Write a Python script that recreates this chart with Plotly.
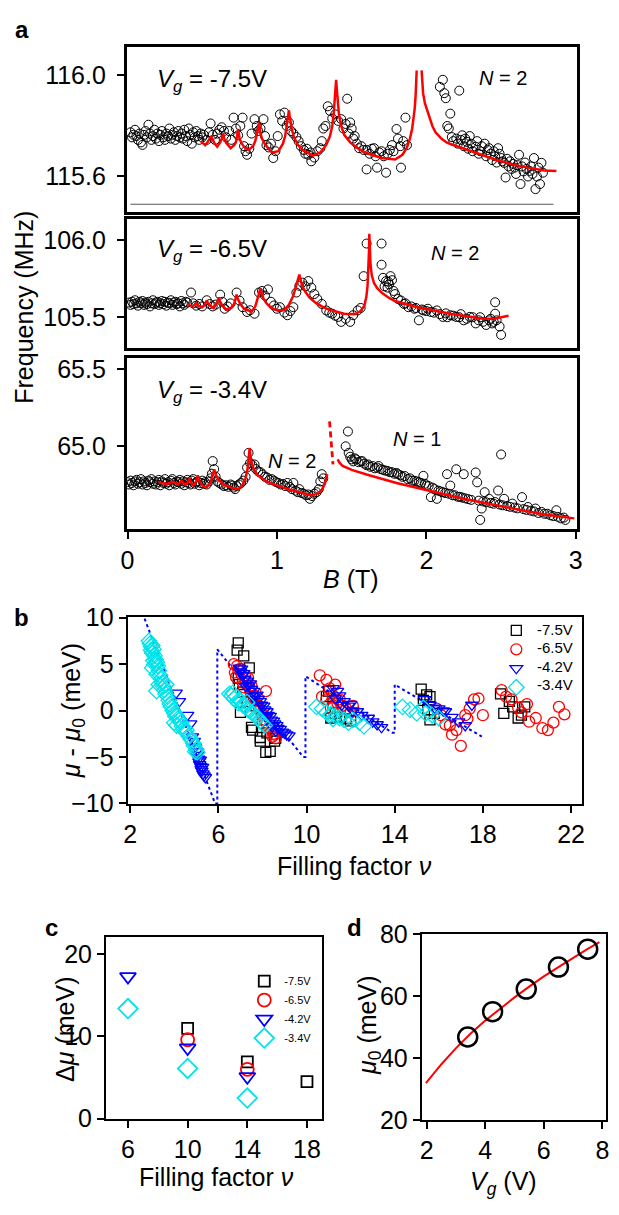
import plotly.graph_objects as go

W, H = 619, 1215

# ---------------- panel a : resonance frequency vs B ----------------
# Vg = -7.5 V  (B [T], f [MHz])
a1_data = [
    (0.02,115.775),(0.03,115.755),(0.04,115.765),(0.05,115.785),(0.06,115.76),(0.07,115.745),(0.08,115.77),
    (0.09,115.735),(0.10,115.725),(0.11,115.765),(0.12,115.78),(0.13,115.755),(0.14,115.805),(0.15,115.77),
    (0.16,115.745),(0.17,115.76),(0.18,115.785),(0.19,115.75),(0.20,115.77),(0.21,115.74),(0.22,115.765),
    (0.23,115.78),(0.24,115.755),(0.25,115.745),(0.26,115.77),(0.27,115.76),(0.28,115.79),(0.29,115.75),
    (0.30,115.765),(0.31,115.775),(0.32,115.745),(0.33,115.76),(0.34,115.78),(0.35,115.755),(0.36,115.77),
    (0.37,115.75),(0.38,115.785),(0.39,115.76),(0.40,115.74),(0.41,115.79),(0.42,115.765),(0.43,115.73),
    (0.44,115.775),(0.45,115.755),(0.46,115.78),(0.47,115.76),(0.48,115.745),(0.49,115.77),(0.50,115.755),
    (0.51,115.765),(0.53,115.745),(0.545,115.775),(0.556,115.81),(0.57,115.765),(0.585,115.745),(0.60,115.77),
    (0.615,115.785),(0.63,115.795),(0.645,115.78),(0.66,115.755),(0.68,115.78),(0.695,115.745),(0.71,115.833),
    (0.725,115.79),(0.74,115.763),(0.755,115.80),(0.77,115.833),(0.78,115.72),(0.79,115.70),(0.80,115.686),
    (0.815,115.71),(0.83,115.77),(0.85,115.827),(0.865,115.80),(0.875,115.78),(0.89,115.79),(0.91,115.827),
    (0.92,115.76),(0.93,115.724),(0.945,115.715),(0.96,115.73),(0.975,115.673),(0.99,115.70),(1.005,115.76),
    (1.02,115.846),(1.035,115.82),(1.05,115.853),(1.065,115.80),(1.08,115.814),(1.095,115.78),(1.11,115.77),
    (1.13,115.756),(1.145,115.74),(1.16,115.72),(1.18,115.705),(1.19,115.69),(1.20,115.71),(1.21,115.686),
    (1.225,115.695),(1.23,115.66),(1.25,115.675),(1.27,115.70),(1.29,115.712),(1.30,115.74),(1.31,115.79),
    (1.325,115.80),(1.34,115.878),(1.355,115.86),(1.37,115.83),(1.39,115.846),(1.41,115.82),(1.43,115.827),
    (1.445,115.79),(1.46,115.808),(1.47,115.908),(1.48,115.77),(1.49,115.814),(1.50,115.79),(1.51,115.75),
    (1.52,115.76),(1.535,115.73),(1.55,115.712),(1.565,115.72),(1.58,115.705),(1.60,115.705),(1.60,115.628),
    (1.62,115.69),(1.635,115.71),(1.65,115.712),(1.66,115.68),(1.67,115.635),(1.685,115.695),(1.70,115.70),
    (1.715,115.68),(1.73,115.615),(1.74,115.69),(1.755,115.705),(1.77,115.724),(1.78,115.70),(1.80,115.788),
    (1.81,115.75),(1.825,115.72),(1.83,115.635),(1.845,115.74),(1.86,115.833),(1.87,115.724),
    (2.09,115.955),(2.11,115.983),(2.12,115.93),(2.13,115.91),(2.14,115.80),(2.15,115.79),(2.16,115.849),
    (2.17,115.756),(2.18,115.74),(2.20,115.75),(2.21,115.73),(2.22,115.94),(2.23,115.745),(2.24,115.763),
    (2.25,115.72),(2.26,115.75),(2.27,115.737),(2.28,115.71),(2.29,115.76),(2.30,115.73),(2.31,115.70),
    (2.33,115.718),(2.34,115.74),(2.35,115.69),(2.36,115.70),(2.37,115.72),(2.39,115.73),(2.40,115.68),
    (2.41,115.705),(2.42,115.712),(2.43,115.69),(2.44,115.665),(2.45,115.70),(2.46,115.68),(2.47,115.655),
    (2.48,115.712),(2.49,115.69),(2.50,115.673),(2.51,115.66),(2.52,115.654),(2.53,115.596),(2.54,115.67),
    (2.55,115.64),(2.56,115.66),(2.57,115.63),(2.58,115.65),(2.59,115.635),(2.60,115.61),(2.61,115.645),
    (2.62,115.686),(2.63,115.57),(2.64,115.64),(2.65,115.62),(2.66,115.655),(2.67,115.63),(2.68,115.60),
    (2.69,115.622),(2.70,115.64),(2.71,115.61),(2.72,115.673),(2.73,115.55),(2.74,115.60),(2.75,115.635),
    (2.76,115.57),(2.77,115.654),(2.78,115.615),
]
a1_fit = [
    (0.49,115.74),(0.505,115.73),(0.52,115.724),(0.535,115.735),(0.55,115.75),(0.56,115.76),(0.57,115.745),
    (0.585,115.728),(0.60,115.718),(0.62,115.735),(0.632,115.752),(0.64,115.769),(0.648,115.75),(0.66,115.733),
    (0.69,115.712),(0.715,115.725),(0.725,115.735),(0.732,115.752),(0.737,115.772),(0.74,115.788),
    (0.744,115.77),(0.75,115.75),(0.76,115.735),(0.78,115.717),(0.81,115.705),(0.84,115.72),(0.855,115.74),
    (0.865,115.762),(0.872,115.785),(0.877,115.805),(0.88,115.814),(0.884,115.795),(0.89,115.77),
    (0.90,115.75),(0.92,115.727),(0.95,115.705),(0.97,115.695),(1.01,115.70),(1.04,115.73),(1.055,115.76),
    (1.065,115.80),(1.072,115.835),(1.078,115.858),(1.08,115.862),(1.085,115.84),(1.092,115.81),
    (1.10,115.785),(1.115,115.755),(1.14,115.725),(1.17,115.705),(1.24,115.683),(1.29,115.695),
    (1.33,115.725),(1.355,115.76),(1.37,115.80),(1.38,115.85),(1.387,115.90),(1.392,115.95),(1.396,115.983),
    (1.40,115.95),(1.405,115.90),(1.415,115.845),(1.43,115.80),(1.45,115.765),(1.49,115.735),(1.54,115.712),
    (1.59,115.695),(1.70,115.673),(1.79,115.667),(1.84,115.686),(1.87,115.715),(1.89,115.75),(1.905,115.79),
    (1.915,115.83),(1.922,115.87),(1.928,115.92),(1.932,115.97),(1.935,116.02),(None,None),
    (1.968,116.02),(1.972,115.97),(1.978,115.93),(1.99,115.89),(2.005,115.86),(2.02,115.835),(2.04,115.80),
    (2.06,115.776),(2.10,115.75),(2.14,115.733),(2.25,115.712),(2.36,115.688),(2.46,115.667),(2.58,115.647),
    (2.68,115.635),(2.79,115.624),(2.87,115.622),
]

# Vg = -6.5 V
a2_data = [
    (0.01,105.595),(0.02,105.58),(0.03,105.60),(0.04,105.585),(0.05,105.61),(0.06,105.59),(0.07,105.575),
    (0.08,105.60),(0.09,105.59),(0.10,105.605),(0.11,105.58),(0.12,105.595),(0.13,105.585),(0.14,105.60),
    (0.15,105.57),(0.16,105.59),(0.17,105.61),(0.18,105.585),(0.19,105.595),(0.20,105.60),(0.21,105.58),
    (0.22,105.59),(0.23,105.605),(0.24,105.585),(0.25,105.60),(0.26,105.575),(0.27,105.595),(0.28,105.59),
    (0.29,105.61),(0.30,105.58),(0.31,105.595),(0.32,105.60),(0.33,105.585),(0.34,105.59),(0.35,105.57),
    (0.36,105.605),(0.37,105.59),(0.38,105.58),(0.39,105.60),(0.40,105.595),
    (0.425,105.66),(0.44,105.59),(0.46,105.575),(0.48,105.586),(0.50,105.57),(0.53,105.61),(0.55,105.585),
    (0.57,105.57),(0.59,105.582),(0.62,105.646),(0.635,105.6),(0.65,105.555),(0.67,105.57),(0.69,105.59),
    (0.73,105.66),(0.75,105.607),(0.77,105.565),(0.80,105.534),(0.82,105.545),(0.85,105.523),(0.88,105.66),
    (0.90,105.67),(0.92,105.64),(0.94,105.68),(0.96,105.6),(0.98,105.576),(1.00,105.555),(1.02,105.565),
    (1.05,105.53),(1.07,105.513),(1.09,105.54),(1.11,105.565),(1.13,105.66),(1.15,105.703),(1.17,105.724),
    (1.19,105.70),(1.21,105.734),(1.23,105.692),(1.25,105.65),(1.27,105.618),(1.30,105.586),(1.33,105.544),
    (1.35,105.53),(1.37,105.523),(1.39,105.51),(1.41,105.502),(1.43,105.47),(1.46,105.49),(1.49,105.47),
    (1.51,105.513),(1.54,105.544),(1.56,105.56),(1.58,105.766),(1.60,105.977),(1.70,105.977),(1.70,105.84),
    (1.71,105.755),(1.72,105.70),(1.73,105.734),(1.74,105.692),(1.745,105.73),(1.75,105.713),(1.76,105.766),
    (1.77,105.74),(1.78,105.67),(1.79,105.65),(1.81,105.618),(1.83,105.608),(1.85,105.586),(1.86,105.59),
    (1.88,105.565),(1.90,105.57),(1.92,105.555),(1.93,105.56),(1.95,105.48),(1.97,105.55),(1.98,105.544),
    (2.00,105.54),(2.01,105.555),(2.03,105.534),(2.05,105.53),(2.07,105.544),(2.09,105.52),(2.11,105.502),
    (2.13,105.525),(2.14,105.50),(2.16,105.513),(2.18,105.51),(2.20,105.502),(2.22,105.50),(2.23,105.52),
    (2.25,105.48),(2.27,105.49),(2.29,105.502),(2.31,105.50),(2.33,105.46),(2.35,105.48),(2.36,105.50),
    (2.38,105.47),(2.40,105.45),(2.42,105.48),(2.43,105.49),(2.44,105.46),(2.45,105.47),(2.46,105.597),
    (2.46,105.523),(2.47,105.48),(2.49,105.44),(2.50,105.386),
]
a2_fit = [
    (0.40,105.582),(0.42,105.575),(0.435,105.57),(0.45,105.58),(0.46,105.59),(0.475,105.575),(0.50,105.565),
    (0.515,105.578),(0.525,105.595),(0.53,105.608),(0.54,105.59),(0.555,105.572),(0.575,105.559),
    (0.595,105.585),(0.605,105.61),(0.61,105.629),(0.618,105.605),(0.635,105.575),(0.66,105.549),
    (0.70,105.565),(0.715,105.59),(0.725,105.625),(0.73,105.646),(0.738,105.62),(0.755,105.585),
    (0.78,105.555),(0.83,105.536),(0.855,105.57),(0.875,105.63),(0.885,105.67),(0.89,105.686),
    (0.897,105.655),(0.91,105.62),(0.93,105.59),(0.96,105.56),(1.00,105.545),(1.045,105.545),(1.08,105.58),
    (1.11,105.64),(1.13,105.71),(1.145,105.76),(1.15,105.776),(1.157,105.745),(1.17,105.70),(1.19,105.665),
    (1.22,105.625),(1.26,105.593),(1.30,105.57),(1.35,105.548),(1.45,105.522),(1.52,105.52),(1.56,105.54),
    (1.585,105.575),(1.598,105.63),(1.606,105.70),(1.612,105.80),(1.616,105.93),(1.618,106.04),
    (1.621,105.93),(1.626,105.84),(1.635,105.77),(1.65,105.72),(1.67,105.69),(1.70,105.66),(1.75,105.625),
    (1.79,105.605),(1.94,105.565),(2.16,105.523),(2.38,105.49),(2.46,105.492),(2.55,105.51),
]

# Vg = -3.4 V
a3_data = [
    (0.00,64.765),(0.01,64.75),(0.02,64.775),(0.03,64.76),(0.04,64.745),(0.05,64.77),(0.06,64.78),
    (0.07,64.755),(0.08,64.765),(0.09,64.785),(0.10,64.75),(0.11,64.77),(0.12,64.76),(0.13,64.745),
    (0.14,64.775),(0.15,64.765),(0.16,64.785),(0.17,64.755),(0.18,64.77),(0.19,64.75),(0.20,64.765),
    (0.21,64.78),(0.22,64.745),(0.23,64.77),(0.24,64.76),(0.25,64.785),(0.26,64.755),(0.27,64.765),
    (0.28,64.745),(0.29,64.775),(0.30,64.785),(0.31,64.76),(0.32,64.75),(0.33,64.77),(0.34,64.765),
    (0.35,64.78),(0.36,64.755),(0.37,64.77),(0.38,64.745),(0.39,64.765),(0.40,64.78),(0.41,64.76),
    (0.42,64.75),(0.43,64.775),(0.44,64.785),(0.45,64.755),(0.46,64.765),(0.47,64.77),(0.48,64.745),
    (0.49,64.76),(0.50,64.775),(0.51,64.755),(0.52,64.765),
    (0.53,64.75),(0.545,64.77),(0.555,64.79),(0.565,64.82),(0.57,64.902),(0.58,64.85),(0.59,64.80),
    (0.60,64.77),(0.615,64.76),(0.63,64.75),(0.645,64.74),(0.66,64.745),(0.675,64.735),(0.69,64.75),
    (0.70,64.743),(0.71,64.73),(0.72,64.72),(0.73,64.74),(0.745,64.75),(0.76,64.76),(0.775,64.775),
    (0.79,64.80),(0.80,64.86),(0.81,64.955),(0.82,64.89),(0.835,64.875),(0.85,64.88),(0.86,64.85),
    (0.875,64.835),(0.89,64.83),(0.905,64.815),(0.92,64.80),(0.935,64.795),(0.95,64.78),(0.965,64.785),
    (0.98,64.775),(0.995,64.765),(1.01,64.76),(1.025,64.75),(1.04,64.753),(1.055,64.74),(1.07,64.76),
    (1.085,64.735),(1.10,64.72),(1.11,64.76),(1.125,64.71),(1.14,64.70),(1.15,64.72),(1.165,64.695),
    (1.18,64.69),(1.195,64.68),(1.21,64.685),(1.22,64.657),(1.235,64.675),(1.25,64.69),(1.265,64.70),
    (1.28,64.72),(1.29,64.77),(1.30,64.817),(1.31,64.79),
    (1.46,64.998),(1.475,65.094),(1.48,64.955),(1.49,64.93),(1.50,64.913),(1.51,64.90),(1.52,64.92),
    (1.53,64.913),(1.545,64.895),(1.56,64.90),(1.57,64.902),(1.585,64.885),(1.60,64.875),(1.61,64.88),
    (1.625,64.865),(1.64,64.87),(1.655,64.855),(1.67,64.86),(1.68,64.87),(1.695,64.85),(1.71,64.845),
    (1.725,64.84),(1.74,64.838),(1.755,64.83),(1.77,64.83),(1.785,64.82),(1.80,64.825),(1.81,64.817),
    (1.825,64.81),(1.84,64.80),(1.855,64.805),(1.875,64.785),(1.89,64.79),(1.905,64.775),(1.92,64.774),
    (1.935,64.77),(1.95,64.765),(1.965,64.76),(1.98,64.806),(1.99,64.755),(2.00,64.743),(2.015,64.74),
    (2.03,64.668),(2.04,64.73),(2.055,64.72),(2.07,64.657),(2.08,64.71),(2.095,64.705),(2.11,64.70),
    (2.125,64.695),(2.138,64.817),(2.15,64.69),(2.16,64.743),(2.175,64.68),(2.19,64.68),(2.20,64.849),
    (2.21,64.67),(2.225,64.67),(2.24,64.665),(2.25,64.817),(2.26,64.66),(2.28,64.655),(2.30,64.65),
    (2.33,64.828),(2.34,64.764),(2.35,64.645),(2.36,64.52),(2.37,64.594),(2.38,64.64),(2.39,64.70),
    (2.40,64.635),(2.42,64.657),(2.43,64.63),(2.45,64.625),(2.46,64.636),(2.48,64.711),(2.49,64.62),
    (2.50,64.945),(2.51,64.615),(2.52,64.657),(2.54,64.61),(2.56,64.605),(2.575,64.626),(2.59,64.60),
    (2.61,64.595),(2.64,64.668),(2.65,64.59),(2.67,64.585),(2.68,64.604),(2.70,64.58),(2.72,64.575),
    (2.73,64.594),(2.75,64.565),(2.77,64.572),(2.79,64.56),(2.81,64.56),(2.83,64.55),(2.85,64.545),
    (2.87,64.583),(2.88,64.54),(2.90,64.53),(2.92,64.535),(2.93,64.52),
]
a3_fit = [
    (0.206,64.764),(0.235,64.756),(0.26,64.753),(0.285,64.76),(0.305,64.768),(0.33,64.752),(0.345,64.755),
    (0.36,64.774),(0.375,64.757),(0.39,64.749),(0.405,64.765),(0.414,64.789),(0.425,64.762),(0.44,64.743),
    (0.46,64.772),(0.47,64.81),(0.48,64.775),(0.505,64.74),(0.53,64.732),(0.555,64.76),(0.57,64.81),
    (0.58,64.849),(0.59,64.815),(0.61,64.78),(0.65,64.745),(0.70,64.728),(0.74,64.72),(0.77,64.745),
    (0.79,64.79),(0.805,64.86),(0.813,64.94),(0.817,64.987),(0.822,64.94),(0.83,64.895),(0.845,64.85),
    (0.87,64.81),(0.92,64.775),(0.96,64.757),(1.07,64.721),(1.18,64.689),(1.23,64.679),(1.27,64.69),
    (1.30,64.715),(1.32,64.753),(1.337,64.817),(None,None),
    (1.406,64.913),(1.42,64.89),(1.44,64.87),(1.50,64.845),(1.60,64.815),(1.70,64.785),(1.80,64.76),
    (1.92,64.732),(2.04,64.705),(2.14,64.679),(2.25,64.657),(2.357,64.636),(2.46,64.615),(2.575,64.594),
    (2.69,64.573),(2.793,64.555),(2.90,64.54),(2.99,64.53),
]
a3_fit_dash = [(1.352,65.16),(1.375,64.88)]

# ---------------- panel b : mu - mu0 vs filling factor ----------------
b_sawtooth = [(2.65,9.9),(5.85,-10.0),(5.95,-10.0),(5.95,6.6),(9.85,-5.0),(9.95,-5.0),(9.95,3.7),
              (13.9,-2.4),(14.0,-2.4),(14.0,2.8),(17.95,-2.8)]
b_m75 = [(6.9,7.3),(6.85,6.5),(7.15,5.9),(7.4,4.6),(6.9,3.5),(6.95,2.8),(7.1,2.0),(7.3,1.0),(7.0,-0.2),
         (7.5,-1.8),(7.55,-2.1),(7.9,-2.9),(7.9,-3.3),(8.15,-4.5),(8.35,-4.4),(8.55,-3.3),(8.6,-3.0),
         (8.2,-2.4),(7.7,0.5),(8.0,-1.0),
         (11.0,2.1),(10.9,1.5),(11.1,-0.8),(11.3,-0.3),(11.5,-0.7),(11.8,-0.9),(12.0,-1.1),(11.2,0.8),
         (15.2,2.3),(15.45,1.7),(15.6,1.5),(15.3,1.1),(15.5,0.1),(15.6,-1.0),(15.8,-0.3),
         (18.8,1.8),(18.95,-0.3),(19.2,1.0),(19.35,0.4),(19.6,-0.8),(19.75,-0.5),(19.9,0.4)]
b_m65 = [(6.7,5.0),(6.75,4.1),(6.8,3.6),(6.85,4.8),(6.9,4.4),(7.0,4.5),(7.05,3.9),(7.1,3.0),(7.2,3.8),
         (7.25,3.1),(7.35,3.5),(7.4,2.6),(7.45,2.0),(7.55,1.8),(7.6,1.4),(7.7,1.0),(7.8,0.6),(7.85,0.2),
         (7.95,-0.3),(8.0,-0.5),(8.1,-1.0),(8.16,2.1),(8.2,-1.4),(8.3,-1.8),(8.4,-2.1),(8.5,-2.5),
         (8.55,-2.6),(8.6,-3.0),(8.45,-2.8),(7.5,2.7),(7.15,2.5),
         (10.6,3.8),(10.9,3.3),(11.05,2.4),(10.7,1.5),(10.9,1.2),(11.2,1.6),(11.4,0.8),(11.6,0.5),
         (11.8,0.2),(12.0,-0.2),(11.5,1.2),(11.3,2.8),(11.1,0.3),(12.1,0.5),
         (15.9,0.2),(16.1,-0.5),(16.3,-1.5),(16.5,-1.6),(16.6,-2.6),(16.8,-2.1),(17.0,-3.8),(17.2,-0.5),
         (17.4,0.2),(17.6,1.2),(17.8,1.3),(18.0,-0.5),(17.3,-0.9),
         (18.85,2.2),(19.05,1.5),(19.3,1.2),(19.6,0.3),(19.75,-0.2),(20.0,0.7),(20.1,-1.2),(20.4,-0.8),
         (20.7,-1.9),(20.95,-2.1),(21.2,-1.3),(21.45,0.4),(21.7,-0.4)]
b_m42 = [(4.08,1.9),(4.23,1.0),(4.6,-0.5),(4.74,-1.4),(4.82,-2.8),(4.9,-3.3),(4.95,-3.9),(5.0,-4.4),
         (5.05,-4.8),(5.1,-5.2),(5.12,-5.5),(5.15,-5.8),(5.2,-6.0),(5.22,-6.3),(5.25,-6.5),(5.3,-6.8),
         (5.35,-7.0),(5.41,-7.2),(5.28,-6.1),(5.18,-5.3),
         (6.95,4.6),(7.0,4.2),(7.05,4.5),(7.1,3.8),(7.15,4.0),(7.2,3.4),(7.3,3.2),(7.35,2.7),(7.45,2.9),
         (7.5,2.3),(7.6,2.1),(7.65,1.6),(7.75,1.7),(7.8,1.2),(7.9,1.0),(7.95,0.6),(8.05,0.5),(8.1,0.1),
         (8.2,-0.1),(8.25,-0.5),(8.35,-0.6),(8.4,-1.0),(8.5,-1.1),(8.55,-1.4),(8.65,-1.6),(8.7,-1.9),
         (8.8,-2.0),(8.9,-2.3),(9.0,-2.4),(9.1,-2.6),(9.2,-2.7),(7.25,2.6),(7.55,1.5),(7.85,0.3),
         (8.15,-0.7),(8.45,-1.7),(8.6,-2.2),
         (11.2,2.4),(11.4,2.1),(11.5,1.6),(11.3,1.3),(11.7,1.0),(11.6,0.6),(11.9,0.5),(12.0,0.7),
         (12.1,0.0),(12.3,-0.1),(12.5,-0.5),(12.8,-0.8),(13.0,-1.2),(13.2,-1.5),(13.4,-1.8),
         (15.35,1.2),(15.6,0.6),(15.8,0.3),(16.0,0.2),(16.2,0.0),(16.3,-0.1),(16.6,-0.7),(16.9,-1.2),
         (17.2,-1.6),(17.5,0.6)]
b_m34 = [(2.85,7.5),(2.9,7.2),(2.95,6.9),(3.0,7.0),(2.95,6.5),(3.0,6.2),(3.05,6.6),(3.1,5.9),(3.05,5.4),
         (3.1,5.0),(3.0,4.6),(3.15,5.5),(3.2,5.2),(3.25,4.8),(3.3,4.3),(3.2,3.9),(3.35,3.8),(3.4,3.4),
         (3.3,2.8),(3.19,2.1),(3.45,3.0),(3.5,2.6),(3.55,2.2),(3.63,2.8),(3.6,1.8),(3.7,1.5),(3.75,1.1),
         (3.8,0.7),(3.85,0.4),(3.93,0.0),(4.0,-0.3),(4.05,-0.6),(4.1,-0.5),(4.15,-0.9),(4.23,-1.0),
         (4.3,-1.3),(4.0,-1.3),(4.1,-1.6),(4.35,-1.7),(4.4,-2.0),(4.5,-2.3),(4.55,-2.1),(4.67,-2.8),
         (4.75,-3.1),(4.85,-3.5),(4.9,-3.8),(5.0,-4.2),(5.04,-4.5),(4.95,-4.4),
         (6.5,1.8),(6.6,1.6),(6.7,1.3),(6.8,1.5),(6.9,0.8),(7.0,1.0),(7.1,0.6),(7.2,0.5),(7.3,0.9),
         (7.35,0.1),(7.4,0.0),(7.5,-0.2),(7.6,-0.4),(7.7,-0.6),(7.8,-0.8),(7.9,-1.1),(8.0,-1.4),(8.1,-1.6),
         (6.65,1.9),(6.95,1.2),
         (10.45,0.4),(10.7,0.2),(10.9,-0.2),(11.1,-0.4),(11.2,-0.9),(11.3,-0.6),(11.5,-0.8),(11.7,-1.0),
         (11.9,-1.3),(12.1,-1.0),(12.4,-1.3),(12.6,-1.7),
         (14.35,0.4),(14.7,0.1),(15.0,-0.3),(15.3,0.3),(15.4,-0.3),(15.7,-0.5),(16.0,-0.8)]

# ---------------- panel c : gap vs filling factor ----------------
c_nu_m75 = [10, 14, 18];   c_dmu_m75 = [11.0, 6.9, 4.5]
c_nu_m65 = [10, 14];       c_dmu_m65 = [9.6, 6.0]
c_nu_m42 = [6, 10, 14];    c_dmu_m42 = [17.3, 8.6, 5.1]
c_nu_m34 = [6, 10, 14];    c_dmu_m34 = [13.4, 6.1, 2.5]

# ---------------- panel d : mu0 vs Vg ----------------
d_vg = [3.4, 4.25, 5.4, 6.5, 7.5]
d_mu0 = [46.8, 55.0, 62.3, 69.4, 75.2]
d_fit_vg = [1.97, 2.2, 2.5, 3.0, 3.5, 4.0, 4.5, 5.0, 5.5, 6.0, 6.5, 7.0, 7.5, 7.9]
d_fit_mu0 = [31.9, 34.6, 38.0, 43.2, 47.9, 52.1, 56.0, 59.6, 63.1, 66.4, 69.4, 72.4, 75.3, 77.5]

series_labels = ["-7.5V", "-6.5V", "-4.2V", "-3.4V"]

# ---------------- helpers ----------------
FONT = "Arial, Liberation Sans, Helvetica, sans-serif"
CYAN = "#00e3ea"


def xd(p0, p1):
    return [p0 / W, p1 / W]


def yd(p0, p1):
    return [1 - p1 / H, 1 - p0 / H]


def px(x):
    return x / W


def py(y):
    return 1 - y / H


def unzip(pts):
    return [p[0] for p in pts], [p[1] for p in pts]


def axis(domain, rng, lw=2, **kw):
    d = dict(domain=domain, range=rng, showline=True, mirror=True, linecolor="black", linewidth=lw,
             ticks="outside", ticklen=7, tickwidth=2, tickcolor="black", showgrid=False, zeroline=False,
             tickfont=dict(size=25, color="black", family=FONT), fixedrange=True)
    d.update(kw)
    return d


fig = go.Figure()

AX_X = xd(123, 582)
# panel a traces
for i, (data, fit) in enumerate([(a1_data, a1_fit), (a2_data, a2_fit), (a3_data, a3_fit)]):
    xa = "x" if i == 0 else f"x{i+1}"
    ya = "y" if i == 0 else f"y{i+1}"
    bx, fy = unzip(data)
    fig.add_trace(go.Scatter(x=bx, y=fy, mode="markers", xaxis=xa, yaxis=ya, showlegend=False,
                             marker=dict(symbol="circle-open", size=9, color="black", line=dict(width=1))))
    fx, ff = unzip(fit)
    fig.add_trace(go.Scatter(x=fx, y=ff, mode="lines", xaxis=xa, yaxis=ya, showlegend=False,
                             connectgaps=False, line=dict(color="red", width=2.5)))
dx, dy = unzip(a3_fit_dash)
fig.add_trace(go.Scatter(x=dx, y=dy, mode="lines", xaxis="x3", yaxis="y3", showlegend=False,
                         line=dict(color="red", width=2.8, dash="6px,4px")))

# panel b
sx, sy = unzip(b_sawtooth)
fig.add_trace(go.Scatter(x=sx, y=sy, mode="lines", xaxis="x4", yaxis="y4", showlegend=False,
                         line=dict(color="blue", width=2, dash="dot")))
styles = [("square-open", 10, "black"), ("circle-open", 11, "red"),
          ("triangle-down-open", 11, "blue"), ("diamond-open", 12, CYAN)]
for pts, lab, (sym, sz, col) in zip([b_m75, b_m65, b_m42, b_m34], series_labels, styles):
    xx, yy = unzip(pts)
    # legend entry shows only the symbol; its label is drawn as a larger annotation below
    fig.add_trace(go.Scatter(x=xx, y=yy, mode="markers", xaxis="x4", yaxis="y4", name=" ",
                             legend="legend",
                             marker=dict(symbol=sym, size=sz, color=col, line=dict(width=1.3))))

# panel c
c_sets = [(c_nu_m75, c_dmu_m75), (c_nu_m65, c_dmu_m65), (c_nu_m42, c_dmu_m42), (c_nu_m34, c_dmu_m34)]
c_sizes = [11, 13, 14, 15]
for (xx, yy), lab, (sym, _, col), sz in zip(c_sets, series_labels, styles, c_sizes):
    fig.add_trace(go.Scatter(x=xx, y=yy, mode="markers", xaxis="x5", yaxis="y5", name=lab,
                             legend="legend2",
                             marker=dict(symbol=sym, size=sz, color=col, line=dict(width=1.8))))

# panel d
fig.add_trace(go.Scatter(x=d_fit_vg, y=d_fit_mu0, mode="lines", xaxis="x6", yaxis="y6", showlegend=False,
                         line=dict(color="red", width=2)))
fig.add_trace(go.Scatter(x=d_vg, y=d_mu0, mode="markers", xaxis="x6", yaxis="y6", showlegend=False,
                         marker=dict(symbol="circle-open", size=19, color="black", line=dict(width=2.5))))

LEG_B_TOP = 616
A_XR = [-0.006, 3.006]
layout = dict(
    width=W, height=H, margin=dict(l=0, r=0, t=0, b=0), autosize=False,
    paper_bgcolor="white", plot_bgcolor="white",
    font=dict(family=FONT, color="black", size=25),
    xaxis=axis(AX_X, A_XR, lw=2.5, anchor="y", ticks="", showticklabels=False),
    yaxis=axis(yd(34, 203), [115.458, 116.112], lw=2.5, anchor="x", tickvals=[115.6, 116.0],
               tickformat=".1f", ticklabelstandoff=6),
    xaxis2=axis(AX_X, A_XR, lw=2.5, anchor="y2", ticks="", showticklabels=False),
    yaxis2=axis(yd(210, 342), [105.30, 106.135], lw=2.5, anchor="x2", tickvals=[105.5, 106.0],
                tickformat=".1f", ticklabelstandoff=6),
    xaxis3=axis(AX_X, A_XR, lw=2.5, anchor="y3", tickvals=[0, 1, 2, 3]),
    yaxis3=axis(yd(352, 527), [64.462, 65.572], lw=2.5, anchor="x3", tickvals=[65.0, 65.5],
                tickformat=".1f", ticklabelstandoff=6),
    xaxis4=axis(xd(124, 587), [1.88, 22.48], anchor="y4", tickvals=[2, 6, 10, 14, 18, 22]),
    yaxis4=axis(yd(617, 809), [-10.1, 10.1], anchor="x4", tickvals=[-10, -5, 0, 5, 10]),
    xaxis5=axis(xd(102, 322), [4.53, 18.99], anchor="y5", tickvals=[6, 10, 14, 18]),
    yaxis5=axis(yd(945, 1131), [-0.05, 22.1], anchor="x5", tickvals=[0, 10, 20]),
    xaxis6=axis(xd(424, 612), [1.83, 8.13], anchor="y6", tickvals=[2, 4, 6, 8]),
    yaxis6=axis(yd(942, 1132), [20, 80], anchor="x6", tickvals=[20, 40, 60, 80]),
    legend=dict(x=px(500), y=py(LEG_B_TOP), xanchor="left", yanchor="top", bgcolor="rgba(0,0,0,0)",
                font=dict(size=12, family=FONT), tracegroupgap=0, itemwidth=30),
    legend2=dict(x=px(243), y=py(975), xanchor="left", yanchor="top", bgcolor="rgba(0,0,0,0)",
                 font=dict(size=11, family=FONT), tracegroupgap=0, itemwidth=30),
    shapes=[dict(type="line", xref="x", yref="y", x0=0.02, x1=2.85, y0=115.49, y1=115.49,
                 line=dict(color="#555555", width=1))],
)
fig.update_layout(**layout)


def ann(text, x, y, size=25, angle=0, xanchor="center", **kw):
    fig.add_annotation(text=text, x=px(x), y=py(y), xref="paper", yref="paper", showarrow=False,
                       textangle=angle, font=dict(size=size, family=FONT, color="black"),
                       xanchor=xanchor, yanchor="middle", **kw)


# legend labels of panel b (plotly legend rows are 18.6 px apart for a 12 px legend font)
for k, lab in enumerate(series_labels):
    ann(lab, 539, LEG_B_TOP + 14.3 + 18.6 * k, size=15, xanchor="left")

# panel letters
ann("<b>a</b>", 16, 16, size=24)
ann("<b>b</b>", 16, 618, size=24)
ann("<b>c</b>", 46, 935, size=24)
ann("<b>d</b>", 355, 935, size=24)

# panel a texts
ann("<i>V<sub>g</sub></i> = -7.5V", 210, 68, size=24)
ann("<i>V<sub>g</sub></i> = -6.5V", 210, 242, size=24)
ann("<i>V<sub>g</sub></i> = -3.4V", 210, 386, size=24)
ann("<i>N</i> = 2", 507, 66, size=20)
ann("<i>N</i> = 2", 458, 245, size=20)
ann("<i>N</i> = 2", 292, 458, size=20)
ann("<i>N</i> = 1", 419, 435, size=20)

# axis titles
ann("Frequency (MHz)", 18, 300, angle=-90)
ann("<i>B</i> (T)", 352, 578)
ann("<i>μ</i> - <i>μ</i><sub>0</sub> (meV)", 68, 713, angle=-90)
ann("Filling factor <i>ν</i>", 355, 872)
ann("Δ<i>μ</i> (meV)", 60, 1039, angle=-90)
ann("Filling factor <i>ν</i>", 215, 1190)
ann("<i>μ</i><sub>0</sub> (meV)", 370, 1035, angle=-90)
ann("<i>V<sub>g</sub></i> (V)", 507, 1197)

fig.write_html("out.html", config={"displayModeBar": False},
               post_script="document.body.style.margin='0px';document.body.style.padding='0px';")
